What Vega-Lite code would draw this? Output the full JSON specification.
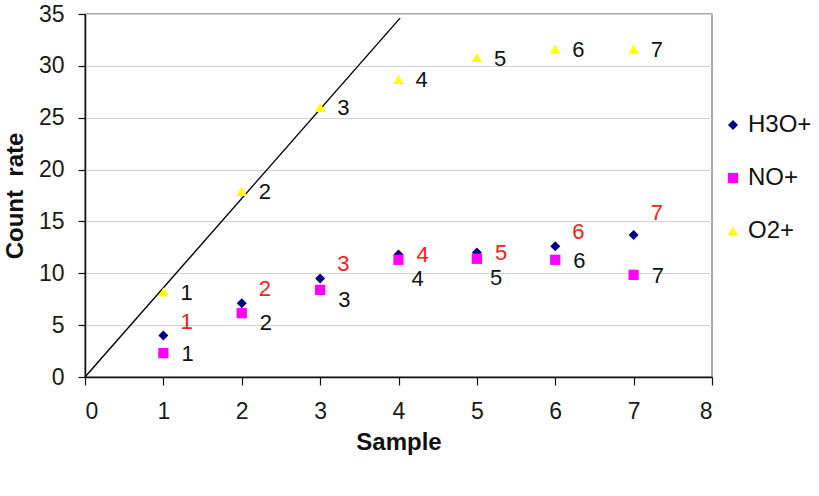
{
  "$schema": "https://vega.github.io/schema/vega-lite/v6.json",
  "width": 627,
  "height": 363,
  "padding": {"left": 3, "top": 3, "right": 5, "bottom": 5},
  "background": "white",
  "config": {
    "font": "Liberation Sans",
    "view": {"stroke": "#8c8c8c", "strokeWidth": 1.5},
    "axis": {
      "labelFont": "Liberation Sans",
      "labelFontSize": 23,
      "labelColor": "#1a1a1a",
      "titleFont": "Liberation Sans",
      "titleFontSize": 24,
      "titleFontWeight": "bold",
      "titleColor": "#111111",
      "domainColor": "#111111",
      "domainWidth": 1.5,
      "tickColor": "#111111",
      "tickWidth": 1.2,
      "tickSize": 7,
      "gridColor": "#d4d4d4",
      "gridWidth": 1.2
    },
    "legend": {
      "orient": "none",
      "legendX": 636,
      "legendY": 99,
      "labelFont": "Liberation Sans",
      "labelFontSize": 24,
      "labelColor": "#111111",
      "rowPadding": 29,
      "labelOffset": 3,
      "symbolSize": 75,
      "symbolStrokeWidth": 0
    }
  },
  "datasets": {
    "counts": [
      {"sample": 1, "ion": "H3O+", "rate": 4.0},
      {"sample": 2, "ion": "H3O+", "rate": 7.1},
      {"sample": 3, "ion": "H3O+", "rate": 9.5},
      {"sample": 4, "ion": "H3O+", "rate": 11.8},
      {"sample": 5, "ion": "H3O+", "rate": 12.0},
      {"sample": 6, "ion": "H3O+", "rate": 12.6},
      {"sample": 7, "ion": "H3O+", "rate": 13.7},
      {"sample": 1, "ion": "NO+", "rate": 2.3},
      {"sample": 2, "ion": "NO+", "rate": 6.15},
      {"sample": 3, "ion": "NO+", "rate": 8.4},
      {"sample": 4, "ion": "NO+", "rate": 11.3},
      {"sample": 5, "ion": "NO+", "rate": 11.4},
      {"sample": 6, "ion": "NO+", "rate": 11.3},
      {"sample": 7, "ion": "NO+", "rate": 9.85},
      {"sample": 1, "ion": "O2+", "rate": 8.2},
      {"sample": 2, "ion": "O2+", "rate": 17.9},
      {"sample": 3, "ion": "O2+", "rate": 26.0},
      {"sample": 4, "ion": "O2+", "rate": 28.7},
      {"sample": 5, "ion": "O2+", "rate": 30.8},
      {"sample": 6, "ion": "O2+", "rate": 31.6},
      {"sample": 7, "ion": "O2+", "rate": 31.6}
    ],
    "reference": [
      {"sample": 0, "rate": 0},
      {"sample": 4.02, "rate": 34.6}
    ]
  },
  "layer": [
    {
      "data": {"name": "reference"},
      "mark": {"type": "line", "color": "#000000", "strokeWidth": 1.4},
      "encoding": {
        "x": {
          "field": "sample",
          "type": "quantitative",
          "scale": {"domain": [0, 8]},
          "axis": {"title": "Sample", "values": [0, 1, 2, 3, 4, 5, 6, 7, 8], "format": "d", "grid": false, "tickSize": 8, "labelPadding": 15, "titlePadding": 7}
        },
        "y": {
          "field": "rate",
          "type": "quantitative",
          "scale": {"domain": [0, 35]},
          "axis": {"title": "Count\u00a0\u00a0rate", "values": [0, 5, 10, 15, 20, 25, 30, 35], "format": "d", "grid": true, "labelPadding": 14, "titlePadding": 11}
        }
      }
    },
    {
      "data": {"name": "counts"},
      "mark": {"type": "point", "filled": true, "opacity": 1, "strokeWidth": 0},
      "encoding": {
        "x": {"field": "sample", "type": "quantitative"},
        "y": {"field": "rate", "type": "quantitative"},
        "shape": {
          "field": "ion",
          "type": "nominal",
          "scale": {"domain": ["H3O+", "NO+", "O2+"], "range": ["diamond", "square", "triangle-up"]},
          "legend": {"title": null}
        },
        "color": {
          "field": "ion",
          "type": "nominal",
          "scale": {"domain": ["H3O+", "NO+", "O2+"], "range": ["#000080", "#ff00ff", "#ffff00"]},
          "legend": {"title": null}
        },
        "size": {
          "field": "ion",
          "type": "nominal",
          "scale": {"domain": ["H3O+", "NO+", "O2+"], "range": [100, 110, 130]},
          "legend": null
        }
      }
    },
    {
      "data": {"name": "counts"},
      "transform": [{"filter": "datum.ion === 'O2+'"}],
      "mark": {"type": "text", "align": "left", "baseline": "middle", "dx": 17, "dy": 1, "fontSize": 22, "color": "#111111"},
      "encoding": {
        "x": {"field": "sample", "type": "quantitative"},
        "y": {"field": "rate", "type": "quantitative"},
        "text": {"field": "sample", "type": "quantitative"}
      }
    },
    {
      "data": {"name": "counts"},
      "transform": [{"filter": "datum.ion === 'H3O+' && indexof([1, 2, 3, 6], datum.sample) >= 0"}],
      "mark": {"type": "text", "align": "left", "baseline": "middle", "dx": 17, "dy": -14, "fontSize": 22, "color": "#f02020"},
      "encoding": {
        "x": {"field": "sample", "type": "quantitative"},
        "y": {"field": "rate", "type": "quantitative"},
        "text": {"field": "sample", "type": "quantitative"}
      }
    },
    {
      "data": {"name": "counts"},
      "transform": [{"filter": "datum.ion === 'H3O+' && indexof([4, 5], datum.sample) >= 0"}],
      "mark": {"type": "text", "align": "left", "baseline": "middle", "dx": 18, "dy": 0, "fontSize": 22, "color": "#f02020"},
      "encoding": {
        "x": {"field": "sample", "type": "quantitative"},
        "y": {"field": "rate", "type": "quantitative"},
        "text": {"field": "sample", "type": "quantitative"}
      }
    },
    {
      "data": {"name": "counts"},
      "transform": [{"filter": "datum.ion === 'H3O+' && datum.sample === 7"}],
      "mark": {"type": "text", "align": "left", "baseline": "middle", "dx": 17, "dy": -22, "fontSize": 22, "color": "#f02020"},
      "encoding": {
        "x": {"field": "sample", "type": "quantitative"},
        "y": {"field": "rate", "type": "quantitative"},
        "text": {"field": "sample", "type": "quantitative"}
      }
    },
    {
      "data": {"name": "counts"},
      "transform": [{"filter": "datum.ion === 'NO+' && indexof([1, 6, 7], datum.sample) >= 0"}],
      "mark": {"type": "text", "align": "left", "baseline": "middle", "dx": 18, "dy": 1, "fontSize": 22, "color": "#111111"},
      "encoding": {
        "x": {"field": "sample", "type": "quantitative"},
        "y": {"field": "rate", "type": "quantitative"},
        "text": {"field": "sample", "type": "quantitative"}
      }
    },
    {
      "data": {"name": "counts"},
      "transform": [{"filter": "datum.ion === 'NO+' && indexof([2, 3], datum.sample) >= 0"}],
      "mark": {"type": "text", "align": "left", "baseline": "middle", "dx": 18, "dy": 10, "fontSize": 22, "color": "#111111"},
      "encoding": {
        "x": {"field": "sample", "type": "quantitative"},
        "y": {"field": "rate", "type": "quantitative"},
        "text": {"field": "sample", "type": "quantitative"}
      }
    },
    {
      "data": {"name": "counts"},
      "transform": [{"filter": "datum.ion === 'NO+' && indexof([4, 5], datum.sample) >= 0"}],
      "mark": {"type": "text", "align": "left", "baseline": "middle", "dx": 13, "dy": 19, "fontSize": 22, "color": "#111111"},
      "encoding": {
        "x": {"field": "sample", "type": "quantitative"},
        "y": {"field": "rate", "type": "quantitative"},
        "text": {"field": "sample", "type": "quantitative"}
      }
    }
  ]
}
